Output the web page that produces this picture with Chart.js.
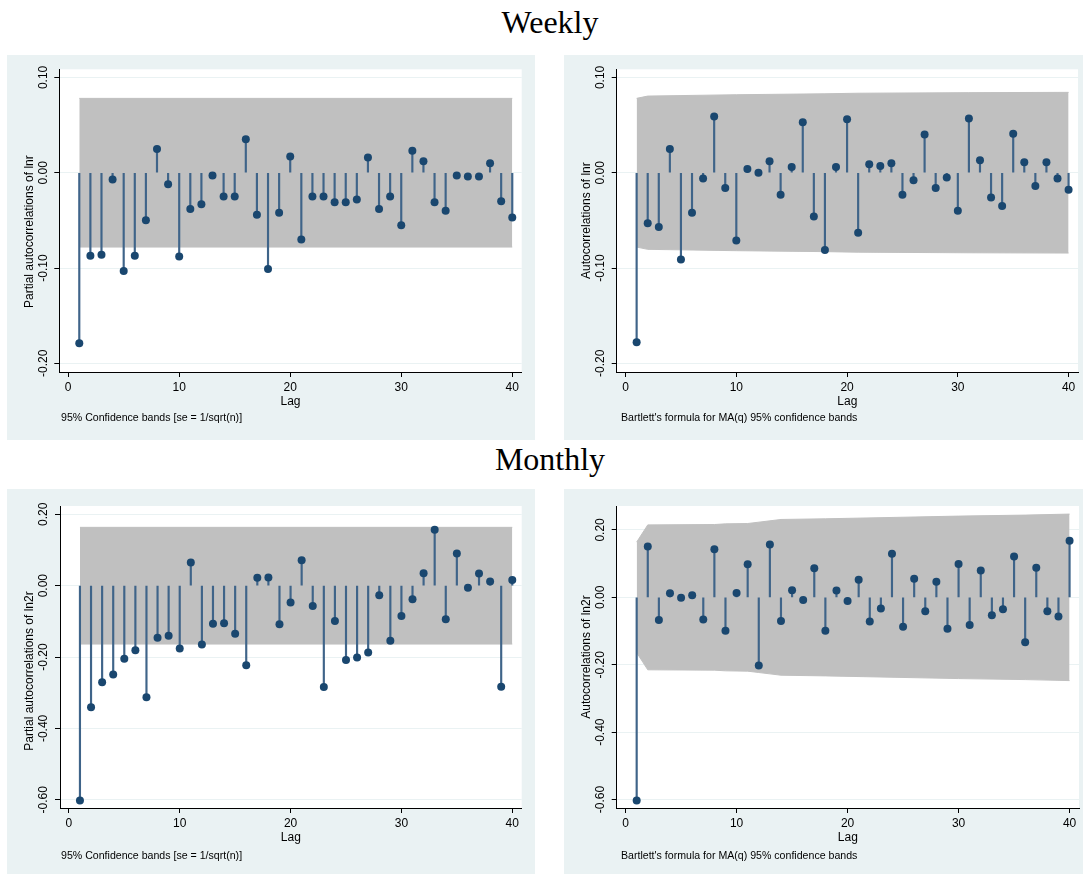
<!DOCTYPE html>
<html>
<head>
<meta charset="utf-8">
<script src="https://cdn.jsdelivr.net/npm/chart.js@4.4.1/dist/chart.umd.min.js"></script>
<style>
  body { margin: 0; background: #fff; width: 1083px; height: 874px; position: relative; overflow: hidden;
         font-family: "Liberation Sans", Arial, sans-serif; }
  .title { position: absolute; left: 0; width: 1100px; text-align: center;
           font-family: "Liberation Serif", "Times New Roman", serif; font-size: 32px; line-height: 32px; }
  .panel { position: absolute; background: #eaf2f3; }
  .panel canvas { position: absolute; left: 0; top: 0; }
  .note { position: absolute; font-size: 10.6px; line-height: 12px; white-space: nowrap; color: #000; }
</style>
</head>
<body>
<div class="title" style="top:6px">Weekly</div>
<div class="title" style="top:443px">Monthly</div>

<div class="panel" style="left:7px;top:55px;width:528px;height:385px"><canvas id="wPacf" width="528" height="385"></canvas></div>
<div class="panel" style="left:564px;top:55px;width:519px;height:385px"><canvas id="wAcf" width="519" height="385"></canvas></div>
<div class="panel" style="left:7px;top:489px;width:528px;height:385px"><canvas id="mPacf" width="528" height="385"></canvas></div>
<div class="panel" style="left:564px;top:489px;width:519px;height:385px"><canvas id="mAcf" width="519" height="385"></canvas></div>

<div class="note" style="left:61px;top:411px">95% Confidence bands [se = 1/sqrt(n)]</div>
<div class="note" style="left:621px;top:411px">Bartlett's formula for MA(q) 95% confidence bands</div>
<div class="note" style="left:61px;top:849px">95% Confidence bands [se = 1/sqrt(n)]</div>
<div class="note" style="left:621px;top:849px">Bartlett's formula for MA(q) 95% confidence bands</div>

<script>
// lags 1..40
const lags = [1, 2, 3, 4, 5, 6, 7, 8, 9, 10, 11, 12, 13, 14, 15, 16, 17, 18, 19, 20,
              21, 22, 23, 24, 25, 26, 27, 28, 29, 30, 31, 32, 33, 34, 35, 36, 37, 38, 39, 40]

// weekly lnr
const weeklyPacf = [-0.179, -0.087, -0.086, -0.007, -0.103, -0.087, -0.050, 0.025, -0.012, -0.088,
                    -0.038, -0.033, -0.003, -0.025, -0.025, 0.035, -0.044, -0.101, -0.042, 0.017,
                    -0.070, -0.025, -0.025, -0.031, -0.031, -0.028, 0.016, -0.038, -0.025, -0.055,
                    0.023, 0.012, -0.031, -0.040, -0.003, -0.004, -0.004, 0.010, -0.030, -0.047]
const weeklyAcf = [-0.178, -0.053, -0.057, 0.025, -0.091, -0.042, -0.006, 0.059, -0.016, -0.071,
                   0.004, 0.000, 0.012, -0.023, 0.006, 0.053, -0.046, -0.081, 0.006, 0.056,
                   -0.063, 0.009, 0.007, 0.010, -0.023, -0.008, 0.040, -0.016, -0.005, -0.040,
                   0.057, 0.013, -0.026, -0.035, 0.041, 0.011, -0.014, 0.011, -0.006, -0.018]

// monthly ln2r
const monthlyPacf = [-0.602, -0.341, -0.271, -0.249, -0.205, -0.181, -0.313, -0.146, -0.140, -0.176,
                     0.065, -0.165, -0.107, -0.105, -0.135, -0.223, 0.022, 0.023, -0.108, -0.047,
                     0.071, -0.057, -0.284, -0.099, -0.208, -0.201, -0.187, -0.027, -0.154, -0.085,
                     -0.038, 0.035, 0.157, -0.094, 0.090, -0.006, 0.034, 0.012, -0.283, 0.016]
const monthlyAcf = [-0.603, 0.151, -0.067, 0.012, -0.001, 0.006, -0.066, 0.143, -0.099, 0.013,
                    0.098, -0.202, 0.157, -0.070, 0.021, -0.008, 0.086, -0.099, 0.020, -0.011,
                    0.052, -0.072, -0.033, 0.129, -0.087, 0.055, -0.041, 0.046, -0.093, 0.099,
                    -0.082, 0.080, -0.053, -0.035, 0.121, -0.133, 0.088, -0.041, -0.057, 0.168]

// confidence bands (half widths)
const pacfBandLags = [1, 40]
const weeklyPacfBand = [0.078, 0.078]
const monthlyPacfBand = [0.1636, 0.1636]
const weeklyAcfBandLags = [1, 2, 6, 10, 18, 21, 31, 40]
const weeklyAcfBand = [0.078, 0.0804, 0.0811, 0.0818, 0.0828, 0.0834, 0.0840, 0.0843]
const monthlyAcfBandLags = [1, 2, 8, 9, 11, 12, 13, 14, 18, 24, 30, 36, 40]
const monthlyAcfBand = [0.164, 0.215, 0.216, 0.218, 0.219, 0.223, 0.227, 0.231, 0.233, 0.237, 0.241, 0.244, 0.247]

// tick labels
const lagTicks = [0, 10, 20, 30, 40]
const weeklyYTicks = [0.10, 0.00, -0.10, -0.20]
const monthlyYTicks = [0.20, 0.00, -0.20, -0.40, -0.60]

// Stata s2color-ish palette
const navy = '#1a476f'
const stemColor = '#3f6489'
const bandGray = '#c0c0c0'
const gridColor = '#eaf2f3'

Chart.defaults.font.family = '"Liberation Sans", Arial, sans-serif'
Chart.defaults.color = '#000'

// white plot region + rotated y tick labels and y title, like Stata draws them
const stataAxis = {
  id: 'stataAxis',
  beforeDraw(chart) {
    const { ctx, chartArea: a } = chart
    ctx.save()
    ctx.fillStyle = '#fff'
    ctx.fillRect(a.left, a.top, a.right - a.left, a.bottom - a.top)
    ctx.restore()
  },
  afterDraw(chart, args, opts) {
    const { ctx, chartArea: a, scales: { y } } = chart
    ctx.save()
    ctx.fillStyle = '#000'
    ctx.textAlign = 'center'
    ctx.textBaseline = 'middle'
    ctx.font = '12px "Liberation Sans", Arial, sans-serif'
    y.ticks.forEach(t => {
      ctx.save()
      ctx.translate(a.left - 16, y.getPixelForValue(t.value))
      ctx.rotate(-Math.PI / 2)
      ctx.fillText(t.value.toFixed(2), 0, 0)
      ctx.restore()
    })
    ctx.translate(a.left - 30, (a.top + a.bottom) / 2 + opts.shift)
    ctx.rotate(-Math.PI / 2)
    ctx.fillText(opts.title, 0, 0)
    ctx.restore()
  }
}

function acfPanel(id, p) {
  const pts = lags.map((l, i) => ({ x: l, y: p.values[i] }))
  const upper = p.bandLags.map((l, i) => ({ x: l, y: p.band[i] }))
  const lower = p.bandLags.map((l, i) => ({ x: l, y: -p.band[i] }))

  return new Chart(document.getElementById(id), {
    type: 'scatter',
    data: {
      datasets: [
        { type: 'scatter', data: pts, backgroundColor: navy, pointRadius: 4, pointHoverRadius: 4, borderWidth: 0, order: 1 },
        { type: 'bar', data: pts, backgroundColor: stemColor, barThickness: 1.5, borderWidth: 0, order: 2 },
        { type: 'line', data: upper, borderColor: bandGray, borderWidth: 1, pointRadius: 0, fill: '+1', backgroundColor: bandGray, order: 3 },
        { type: 'line', data: lower, borderColor: bandGray, borderWidth: 1, pointRadius: 0, fill: false, order: 4 }
      ]
    },
    options: {
      responsive: false,
      animation: false,
      events: [],
      layout: { padding: { left: 0, right: p.padRight, top: p.padTop, bottom: 0 } },
      plugins: {
        legend: { display: false },
        tooltip: { enabled: false },
        stataAxis: { title: p.yTitle, shift: p.titleShift }
      },
      scales: {
        x: {
          type: 'linear',
          min: -0.8,
          max: 40.85,
          offset: false,
          afterBuildTicks: s => { s.ticks = lagTicks.map(v => ({ value: v })) },
          afterFit: s => { s.height = p.xHeight },
          grid: { offset: false, drawOnChartArea: false, drawTicks: true, tickLength: 5, tickColor: '#000' },
          border: { display: true, color: '#000', width: 1 },
          ticks: { font: { size: 12 }, color: '#000', padding: 3, maxRotation: 0, autoSkip: false },
          title: { display: true, text: 'Lag', font: { size: 12 }, color: '#000', padding: { top: 0, bottom: p.lagPad } }
        },
        y: {
          type: 'linear',
          min: p.yMin,
          max: p.yMax,
          afterBuildTicks: s => { s.ticks = p.yTicks.map(v => ({ value: v })) },
          afterFit: s => { s.width = p.yWidth },
          grid: { offset: false, color: gridColor, lineWidth: 1, drawTicks: true, tickLength: 5, tickColor: '#000' },
          border: { display: true, color: '#000', width: 1 },
          ticks: { display: false }
        }
      }
    },
    plugins: [stataAxis]
  })
}

acfPanel('wPacf', {
  values: weeklyPacf, bandLags: pacfBandLags, band: weeklyPacfBand, yTicks: weeklyYTicks,
  yMin: -0.2091, yMax: 0.1085, yTitle: 'Partial autocorrelations of lnr', titleShift: 11,
  yWidth: 52.3, xHeight: 68, padTop: 14.3, padRight: 13.3, lagPad: 31
})
acfPanel('wAcf', {
  values: weeklyAcf, bandLags: weeklyAcfBandLags, band: weeklyAcfBand, yTicks: weeklyYTicks,
  yMin: -0.2091, yMax: 0.1085, yTitle: 'Autocorrelations of lnr', titleShift: 0,
  yWidth: 52.7, xHeight: 68, padTop: 14.3, padRight: 5, lagPad: 31
})
acfPanel('mPacf', {
  values: monthlyPacf, bandLags: pacfBandLags, band: monthlyPacfBand, yTicks: monthlyYTicks,
  yMin: -0.6232, yMax: 0.2234, yTitle: 'Partial autocorrelations of ln2r', titleShift: 14,
  yWidth: 53, xHeight: 66, padTop: 17, padRight: 13.3, lagPad: 29
})
acfPanel('mAcf', {
  values: monthlyAcf, bandLags: monthlyAcfBandLags, band: monthlyAcfBand, yTicks: monthlyYTicks,
  yMin: -0.625, yMax: 0.271, yTitle: 'Autocorrelations of ln2r', titleShift: 0,
  yWidth: 52.7, xHeight: 66, padTop: 17, padRight: 4, lagPad: 29
})
</script>
</body>
</html>
